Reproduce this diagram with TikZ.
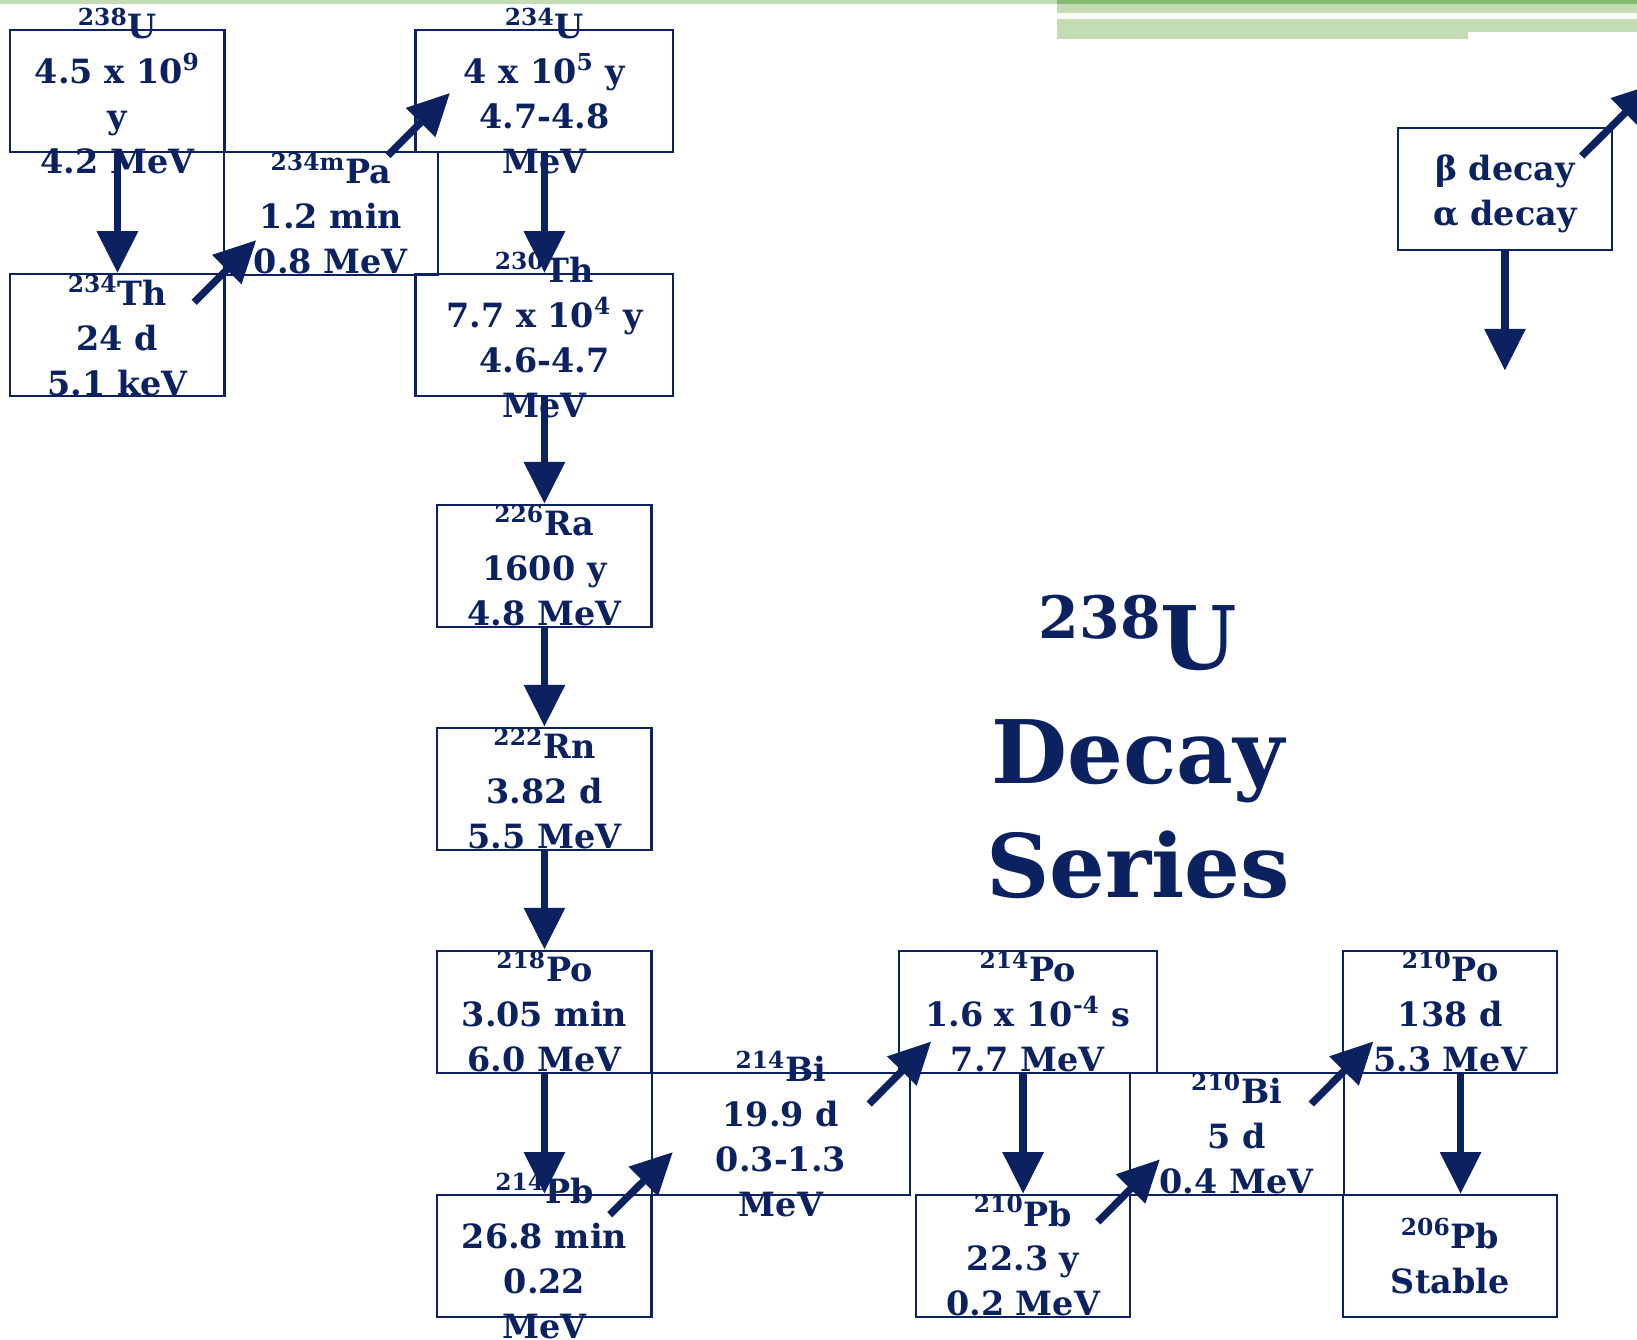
\documentclass[tikz,border=0pt]{standalone}
\usepackage{fontspec}
\setmainfont{DejaVu Serif}
\usetikzlibrary{arrows.meta,positioning,calc}
\definecolor{navy}{HTML}{0B2160}
\definecolor{leaf}{HTML}{C3DCB3}
\definecolor{darkleaf}{HTML}{86B86F}
\newcommand{\iso}[2]{\textsuperscript{#1}#2}
\tikzset{
  box/.style  ={draw=navy,line width=1pt,minimum width=102.5pt,minimum height=58.5pt,
                inner sep=0pt},
  wbox/.style ={box,minimum width=123.5pt},
  txt/.style  ={text=navy,align=center,inner sep=0pt,
                font=\bfseries\fontsize{16}{21.5}\selectfont},
  headline/.style={text=navy,align=center,inner sep=0pt,
                font=\bfseries\fontsize{42}{54.5}\selectfont},
  decay/.style={-{Triangle[length=20pt,width=19pt]},line width=3.5pt,draw=navy}
}

\begin{document}
\begin{tikzpicture}[x=0.5pt,y=-0.5pt]
    \useasboundingbox (0,0) rectangle (1568,1283);
    \clip (0,0) rectangle (1568,1283);
    % green bars along the top
    \fill[leaf] (0,0) rectangle (1568,4);
    \fill[darkleaf] (1012,0) rectangle (1568,4);
    \fill[leaf] (1012,4) rectangle (1568,12.5);
    \fill[leaf] (1012,18) rectangle (1406,37);
    \fill[leaf] (1406,18) rectangle (1568,31);
    % boxes
    \node[box]  (U238)  at (112.5,87.5) {};
    \node[box]  (Th234) at (112.5,321) {};
    \node[box]  (Pa234) at (317,204.5) {};
    \node[wbox] (U234)  at (521.5,87.5) {};
    \node[wbox] (Th230) at (521.5,321) {};
    \node[box]  (Ra226) at (521.5,542) {};
    \node[box]  (Rn222) at (521.5,755.5) {};
    \node[box]  (Po218) at (521.5,969) {};
    \node[box]  (Pb214) at (521.5,1203) {};
    \node[wbox] (Bi214) at (748,1086) {};
    \node[wbox] (Po214) at (984.5,969) {};
    \node[box]  (Pb210) at (980,1203) {};
    \node[box]  (Bi210) at (1184.5,1086) {};
    \node[box]  (Po210) at (1389,969) {};
    \node[box]  (Pb206) at (1389,1203) {};
    \node[box]  (key)   at (1441.5,181) {};
    % texts
    \node[txt] (U238t)  at (U238)  {\iso{238}{U}\\4.5 x 10\textsuperscript{9}\\y\\4.2 MeV};
    \node[txt] (Th234t) at (Th234) {\iso{234}{Th}\\24 d\\5.1 keV};
    \node[txt] (Pa234t) at (Pa234) {\iso{234m}{Pa}\\1.2 min\\0.8 MeV};
    \node[txt] (U234t)  at (U234)  {\iso{234}{U}\\4 x 10\textsuperscript{5} y\\4.7-4.8\\MeV};
    \node[txt] (Th230t) at (Th230) {\iso{230}{Th}\\7.7 x 10\textsuperscript{4} y\\4.6-4.7\\MeV};
    \node[txt] (Ra226t) at (Ra226) {\iso{226}{Ra}\\1600 y\\4.8 MeV};
    \node[txt] (Rn222t) at (Rn222) {\iso{222}{Rn}\\3.82 d\\5.5 MeV};
    \node[txt] (Po218t) at (Po218) {\iso{218}{Po}\\3.05 min\\6.0 MeV};
    \node[txt] (Pb214t) at (Pb214) {\iso{214}{Pb}\\26.8 min\\0.22\\MeV};
    \node[txt] (Bi214t) at (Bi214) {\iso{214}{Bi}\\19.9 d\\0.3-1.3\\MeV};
    \node[txt] (Po214t) at (Po214) {\iso{214}{Po}\\1.6 x 10\textsuperscript{-4} s\\7.7 MeV};
    \node[txt] (Pb210t) at (Pb210) {\iso{210}{Pb}\\22.3 y\\0.2 MeV};
    \node[txt] (Bi210t) at (Bi210) {\iso{210}{Bi}\\5 d\\0.4 MeV};
    \node[txt] (Po210t) at (Po210) {\iso{210}{Po}\\138 d\\5.3 MeV};
    \node[txt] (Pb206t) at (Pb206) {\iso{206}{Pb}\\Stable};
    \node[txt] (keyt)   at ($(key)+(0,5)$) {β decay\\α decay};
    \node[headline] (title) at (1090,715)
      {\raisebox{15pt}{\fontsize{28}{28}\selectfont 238}U\\Decay\\Series};
    % alpha decays
    \draw[decay] (U238.south) -- (Th234.north);
    \draw[decay] (U234.south) -- (Th230.north);
    \draw[decay] (Th230.south) -- (Ra226.north);
    \draw[decay] (Ra226.south) -- (Rn222.north);
    \draw[decay] (Rn222.south) -- (Po218.north);
    \draw[decay] (Po218.south) -- (Pb214.north);
    \draw[decay] (Po214.south -| Pb210.north) -- (Pb210.north);
    \draw[decay] ($(Po210.south)+(10,0)$) -- ($(Pb206.north)+(10,0)$);
    % beta decays
    \draw[decay] ($(Th234.north east)+(-30,28)$) -- ($(Pa234.south west)+(32,-34)$);
    \draw[decay] ($(Pa234.north east)+(-49,4)$) -- ($(U234.south west)+(34,-58)$);
    \draw[decay] ($(Pb214.north east)+(-41,20)$) -- ($(Bi214.south west)+(21,-42)$);
    \draw[decay] ($(Bi214.north east)+(-40,31)$) -- ($(Po214.south west)+(32,-31)$);
    \draw[decay] ($(Pb210.north east)+(-32,27)$) -- ($(Bi210.south west)+(30,-35)$);
    \draw[decay] ($(Bi210.north east)+(-32,31)$) -- ($(Po210.south west)+(30,-31)$);
    % key arrows
    \coordinate (betaend) at (1585,80);
    \coordinate (alphaend) at (1441.5,355);
    \draw[decay] ($(key.north east)+(-30,28)$) -- (betaend);
    \draw[decay] (key.south) -- (alphaend);
\end{tikzpicture}
\end{document}
